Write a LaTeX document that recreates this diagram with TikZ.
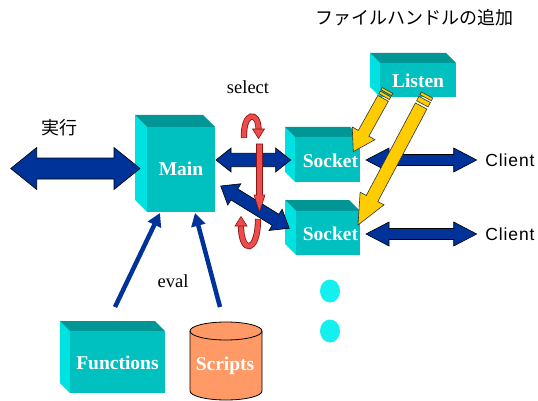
\documentclass[tikz,border=0pt]{standalone}
\usepackage{fontspec}
\setmainfont{Liberation Serif}
\newfontfamily\jpfont{Noto Sans CJK JP}
\newfontfamily\clfont[LetterSpace=5]{Liberation Sans}
\usetikzlibrary{arrows.meta,calc}
\definecolor{cfront}{RGB}{0,192,192}
\definecolor{ctop}{RGB}{0,150,150}
\definecolor{cside}{RGB}{0,226,226}
\definecolor{navy}{RGB}{0,51,153}
\definecolor{ygold}{RGB}{255,204,0}
\definecolor{rfill}{RGB}{236,76,76}
\definecolor{rline}{RGB}{140,20,20}
\definecolor{orng}{RGB}{255,153,102}
\definecolor{dotc}{RGB}{20,240,240}
\tikzset{
  boxlabel/.style={text=white,font=\bfseries\fontsize{19.5}{22}\selectfont,inner sep=0pt},
  plainlabel/.style={text=black,font=\fontsize{18.5}{22}\selectfont,inner sep=0pt},
  jplabel/.style={text=black,font=\jpfont\fontsize{18}{22}\selectfont,inner sep=0pt},
  cllabel/.style={text=black,font=\clfont\fontsize{17.5}{20}\selectfont,inner sep=0pt},
  bluefat/.style={fill=navy,draw=black,line width=0.6pt,line join=miter},
  yfat/.style={fill=ygold,draw=black!80,line width=0.6pt,line join=miter},
  redfat/.style={fill=rfill,draw=rline,line width=0.6pt,line join=miter},
  thinblue/.style={draw=navy,line width=4.5pt,-{Triangle[length=13pt,width=14pt]}},
}
% cube: x1 y1 (back top-left), x2 y2 (front bottom-right), depth
\newcommand\cubebox[5]{%
  \fill[cside] (#1,#2) -- (#1+#5,#2+#5) -- (#1+#5,#4) -- (#1,#4-#5) -- cycle;
  \fill[ctop] (#1,#2) -- (#3-#5,#2) -- (#3,#2+#5) -- (#1+#5,#2+#5) -- cycle;
  \fill[cfront] (#1+#5,#2+#5) rectangle (#3,#4);}
\newcommand\getdir[2]{%
  \path let \p1=(#1), \p2=(#2), \n1={atan2(\y2-\y1,\x2-\x1)}, \n2={veclen(\x2-\x1,\y2-\y1)} in \pgfextra{\xdef\fa{\n1}\xdef\fl{\n2}};}
% double fat arrow: from, to, head length, head half width, shaft half width
\newcommand\fatdouble[5]{%
  \getdir{#1}{#2}%
  \begin{scope}[shift={(#1)},rotate=\fa,x=1pt,y=1pt]
    \draw[bluefat] (0,0) -- (#3,#4) -- (#3,#5) -- (\fl-#3,#5) -- (\fl-#3,#4) -- (\fl,0)
      -- (\fl-#3,-#4) -- (\fl-#3,-#5) -- (#3,-#5) -- (#3,-#4) -- cycle;
  \end{scope}}
% single fat arrow
\newcommand\fatsingle[6]{%
  \getdir{#1}{#2}%
  \begin{scope}[shift={(#1)},rotate=\fa,x=1pt,y=1pt]
    \draw[#6] (0,-#5) -- (\fl-#3,-#5) -- (\fl-#3,-#4) -- (\fl,0) -- (\fl-#3,#4) -- (\fl-#3,#5) -- (0,#5) -- cycle;
  \end{scope}}
% striped arrow: from,to,h,H,s, stripe1 end, stripe2 start, stripe2 end, body start
\newcommand\stripedarrow[9]{%
  \getdir{#1}{#2}%
  \begin{scope}[shift={(#1)},rotate=\fa,x=1pt,y=1pt]
    \draw[yfat] (0,-#5) rectangle (#6,#5);
    \draw[yfat] (#7,-#5) rectangle (#8,#5);
    \draw[yfat] (#9,-#5) -- (\fl-#3,-#5) -- (\fl-#3,-#4) -- (\fl,0) -- (\fl-#3,#4) -- (\fl-#3,#5) -- (#9,#5) -- cycle;
  \end{scope}}
\begin{document}
\begin{tikzpicture}[x=1pt,y=-1pt]
\useasboundingbox (0,0) rectangle (538,401);
\fill[white] (0,0) rectangle (538,401);
% boxes
\cubebox{135}{115}{215}{212}{12}
\cubebox{285}{127}{360}{182}{10}
\cubebox{285}{200}{360}{255}{11}
\cubebox{370}{53}{456}{97}{10}
\cubebox{60}{321}{165}{393}{10}
% scripts cylinder
\draw[fill=orng,draw=black,line width=0.8pt]
  (190,331) -- (190,391) .. controls (190,396) and (206.1,400) .. (226,400)
  .. controls (245.9,400) and (262,396) .. (262,391) -- (262,331)
  .. controls (262,326) and (245.9,322) .. (226,322)
  .. controls (206.1,322) and (190,326) .. (190,331) -- cycle;
\draw[draw=black,line width=0.8pt] (190,331) .. controls (190,336) and (206.1,340) .. (226,340)
  .. controls (245.9,340) and (262,336) .. (262,331);
% dots
\fill[dotc] (330,291) ellipse [x radius=10, y radius=11.5];
\fill[dotc] (330,331) ellipse [x radius=10, y radius=11.5];
% thin arrows to main
\coordinate (f1) at (115,307);
\coordinate (m1) at (160,213);
\coordinate (s1) at (220,307);
\coordinate (m2) at (195,213);
\draw[thinblue] (f1) -- (m1);
\draw[thinblue] (s1) -- (m2);
% exec arrow
\coordinate (exL) at (10.7,168.5);
\coordinate (exR) at (140,168.5);
\fatdouble{exL}{exR}{26}{21}{10.5}
% red U arches (select)
\draw[rline,line width=6.2pt] (244,138) .. controls (243,111) and (258.5,111) .. (258.5,129);
\draw[rfill,line width=4.6pt] (244,137.6) .. controls (243,111) and (258.5,111) .. (258.5,129.4);
\draw[redfat] (252.5,129) -- (264.5,129) -- (258.5,138.5) -- cycle;
\draw[rline,line width=6.2pt] (241,226) .. controls (241,254) and (258,254) .. (258,219);
\draw[rfill,line width=4.6pt] (241,225.6) .. controls (241,254) and (258,254) .. (258,219.4);
\draw[redfat] (235,226) -- (247,226) -- (241,216.5) -- cycle;
% main-socket arrows
\coordinate (ma) at (216,160);
\coordinate (sa) at (290.7,160);
\fatdouble{ma}{sa}{15}{12}{6.7}
\coordinate (mb) at (220.7,186);
\coordinate (sb) at (289.3,228.3);
\fatdouble{mb}{sb}{16}{12.5}{6.5}
% red vertical arrow
\coordinate (ra) at (259.5,144);
\coordinate (rb) at (259.5,212);
\fatsingle{ra}{rb}{17}{5.5}{3}{redfat}
% socket-client arrows
\coordinate (c1a) at (366,160);
\coordinate (c1b) at (476.7,160);
\fatdouble{c1a}{c1b}{23}{12}{5.5}
\coordinate (c2a) at (366,234);
\coordinate (c2b) at (476.7,234);
\fatdouble{c2a}{c2b}{23}{12}{5.5}
% yellow arrows from Listen
\coordinate (y1a) at (387.5,90.5);
\coordinate (y1b) at (353.3,151.7);
\stripedarrow{y1a}{y1b}{21}{13}{6}{2.5}{4}{7}{9}
\coordinate (y2a) at (427,95);
\coordinate (y2b) at (358,225);
\stripedarrow{y2a}{y2b}{30}{13.5}{6.5}{3}{5}{10}{12.5}
% labels
\node[boxlabel] (main) at (181,169) {Main};
\node[boxlabel] (sock1) at (330.5,160.5) {Socket};
\node[boxlabel] (sock2) at (330.5,234) {Socket};
\node[boxlabel] (listen) at (418,80.5) {Listen};
\node[boxlabel] (func) at (117.5,362.5) {Functions};
\node[boxlabel] (scripts) at (225,365.5) {Scripts};
\node[plainlabel] (sel) at (248,87) {select};
\node[plainlabel] (ev) at (173,281) {eval};
\node[jplabel] (title) at (414,17.5) {ファイルハンドルの追加};
\node[jplabel] (exec) at (59,127.5) {実行};
\node[cllabel] (cl1) at (510,160) {Client};
\node[cllabel] (cl2) at (510,234) {Client};
\end{tikzpicture}
\end{document}
